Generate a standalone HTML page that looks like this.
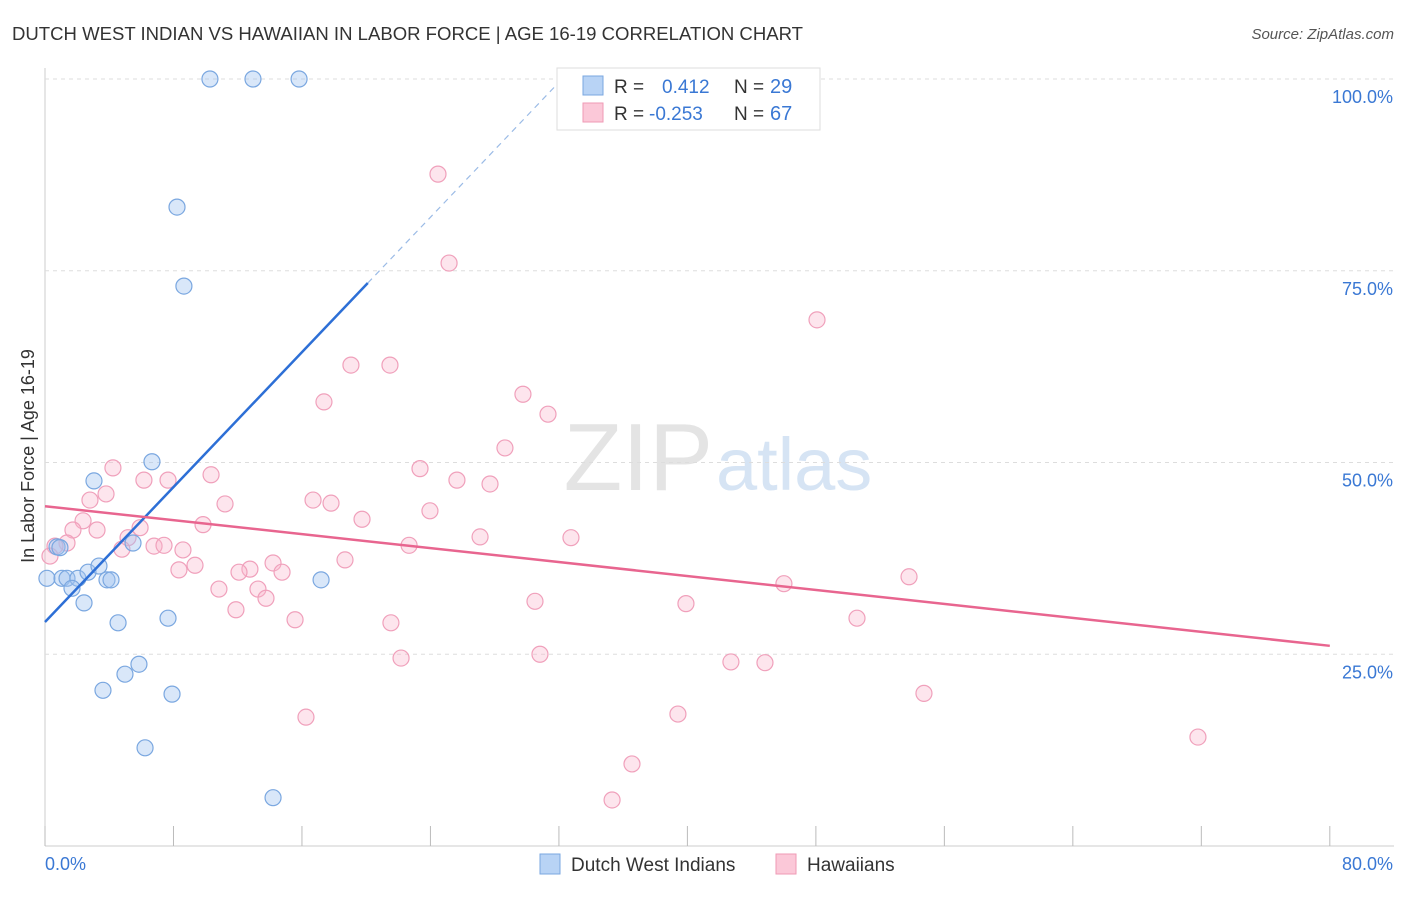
<!DOCTYPE html>
<html><head><meta charset="utf-8"><style>
body{margin:0;background:#fff;font-family:"Liberation Sans",sans-serif}
svg text{font-family:"Liberation Sans",sans-serif}
</style></head><body>
<svg id="c" width="1406" height="892" xmlns="http://www.w3.org/2000/svg">
<text x="12" y="40" font-size="18" fill="#333" textLength="791" lengthAdjust="spacingAndGlyphs">DUTCH WEST INDIAN VS HAWAIIAN IN LABOR FORCE | AGE 16-19 CORRELATION CHART</text>
<text x="1394" y="39" font-size="15" fill="#555" font-style="italic" text-anchor="end">Source: ZipAtlas.com</text>
<text x="713" y="490" font-size="96" fill="#e4e4e4" text-anchor="end" font-family="Liberation Serif">ZIP</text>
<text x="716" y="490" font-size="74" fill="#d6e4f4">atlas</text>
<text transform="translate(34,456) rotate(-90)" font-size="18" fill="#333" text-anchor="middle">In Labor Force | Age 16-19</text>
<g id="grid"></g><g id="pts"></g><g id="lines"></g>
<g>
<rect x="557" y="68" width="263" height="62" fill="#fff" stroke="#ddd"/>
<rect x="583" y="76" width="20" height="19" fill="#b8d3f5" stroke="#7aa7e0"/>
<rect x="583" y="103" width="20" height="19" fill="#fbc8d8" stroke="#ef9ab5"/>
<text x="614" y="93" font-size="19" fill="#333">R =</text><text x="662" y="93" font-size="19" fill="#3a78d4">0.412</text>
<text x="734" y="93" font-size="19" fill="#333">N =</text><text x="770" y="93" font-size="20" fill="#3a78d4">29</text>
<text x="614" y="120" font-size="19" fill="#333">R =</text><text x="649" y="120" font-size="19" fill="#3a78d4">-0.253</text>
<text x="734" y="120" font-size="19" fill="#333">N =</text><text x="770" y="120" font-size="20" fill="#3a78d4">67</text>
</g>
<g>
<rect x="540" y="854" width="20" height="20" fill="#b8d3f5" stroke="#7aa7e0"/>
<text x="571" y="871" font-size="19" fill="#333">Dutch West Indians</text>
<rect x="776" y="854" width="20" height="20" fill="#fbc8d8" stroke="#ef9ab5"/>
<text x="807" y="871" font-size="19" fill="#333">Hawaiians</text>
</g>
</svg>
<script>
const blueX=[10.27,12.95,15.82,8.22,8.65,6.66,3.05,0.75,0.93,5.48,0.12,1.06,1.37,2.05,2.68,3.36,3.86,4.11,1.68,2.43,4.55,7.66,5.85,4.98,3.61,7.91,6.23,14.2,17.19];
const blueY=[100,100,100,83.3,73.0,50.1,47.6,39.0,38.9,39.5,34.9,34.9,34.9,34.9,35.7,36.5,34.7,34.7,33.6,31.7,29.1,29.7,23.7,22.4,20.3,19.8,12.8,6.3,34.7];
const pinkPx=[[438,174],[449,263],[817,320],[351,365],[390,365],[324,402],[523,394],[548,414],[505,448],[420,469],[457,480],[490,484],[211,475],[113,468],[144,480],[168,480],[106,494],[90,500],[225,504],[313,500],[331,503],[362,519],[430,511],[83,521],[73,530],[97,530],[203,525],[140,528],[128,538],[67,543],[55,546],[50,556],[154,546],[164,545],[183,550],[122,549],[409,545],[480,537],[571,538],[345,560],[273,563],[250,569],[239,572],[282,572],[179,570],[195,565],[219,589],[258,589],[266,598],[236,610],[295,620],[391,623],[535,601],[686,604],[784,584],[909,577],[857,618],[540,654],[401,658],[731,662],[765,663],[924,693],[306,717],[678,714],[632,764],[612,800],[1198,737]];
const pinkX=pinkPx.map(p=>+((p[0]-45)/16.06).toFixed(2));
const pinkY=pinkPx.map(p=>+((846-p[1])/7.67).toFixed(1));
const yTicks=[25,50,75,100];
const yTickLabels=["25.0%","50.0%","75.0%","100.0%"];
const blueTrend=[29.2,73.4,20.1];
const pinkTrend=[44.3,26.1];
const X=v=>45+v*16.06, Y=v=>846-v*7.67;
const NS="http://www.w3.org/2000/svg";
function mk(p,t,a){const e=document.createElementNS(NS,t);for(const k in a)e.setAttribute(k,a[k]);document.getElementById(p).appendChild(e);return e;}
let ax=mk('grid','line',{x1:45,y1:68,x2:45,y2:846,stroke:'#ccc'});


let bx=mk('grid','line',{x1:45,y1:846,x2:1394,y2:846,stroke:'#ccc'});


yTicks.forEach((t,i)=>{
 let g=mk('grid','line',{x1:45,y1:Y(t),x2:1394,y2:Y(t),stroke:'#ddd','stroke-dasharray':'4,4'});
 
 
 let l=mk('grid','text',{x:1393,y:Y(t)+24,'font-size':18,fill:'#3a78d4','text-anchor':'end'});
 l.textContent=yTickLabels[i];
 
 
});
for(let i=0;i<=10;i++){let t=mk('grid','line',{x1:X(i*8),y1:826,x2:X(i*8),y2:846,stroke:'#bbb'});
 
 }
[["0.0%",45,'start'],["80.0%",1393,'end']].forEach(a=>{let l=mk('grid','text',{x:a[1],y:870,'font-size':18,fill:'#3a78d4','text-anchor':a[2]});l.textContent=a[0];
 
 });
pinkX.forEach((x,i)=>{let c=mk('pts','circle',{cx:X(x),cy:Y(pinkY[i]),r:8,fill:'rgba(248,180,202,0.35)',stroke:'#f0a0bb','stroke-width':1.2});
 
 });
blueX.forEach((x,i)=>{let c=mk('pts','circle',{cx:X(x),cy:Y(blueY[i]),r:8,fill:'rgba(160,196,240,0.4)',stroke:'#7aa7e0','stroke-width':1.2});
 
 });
const slope=(blueTrend[1]-blueTrend[0])/blueTrend[2];
let b1=mk('lines','line',{x1:X(0),y1:Y(blueTrend[0]),x2:X(blueTrend[2]),y2:Y(blueTrend[1]),stroke:'#2d6fd6','stroke-width':2.5});


const xe=(100-blueTrend[0])/slope;
let b2=mk('lines','line',{x1:X(blueTrend[2]),y1:Y(blueTrend[1]),x2:X(xe),y2:Y(100),stroke:'#9bbbe6','stroke-width':1.2,'stroke-dasharray':'6,5'});


let p1=mk('lines','line',{x1:X(0),y1:Y(pinkTrend[0]),x2:X(80),y2:Y(pinkTrend[1]),stroke:'#e8658f','stroke-width':2.5});


</script>
</body></html>
